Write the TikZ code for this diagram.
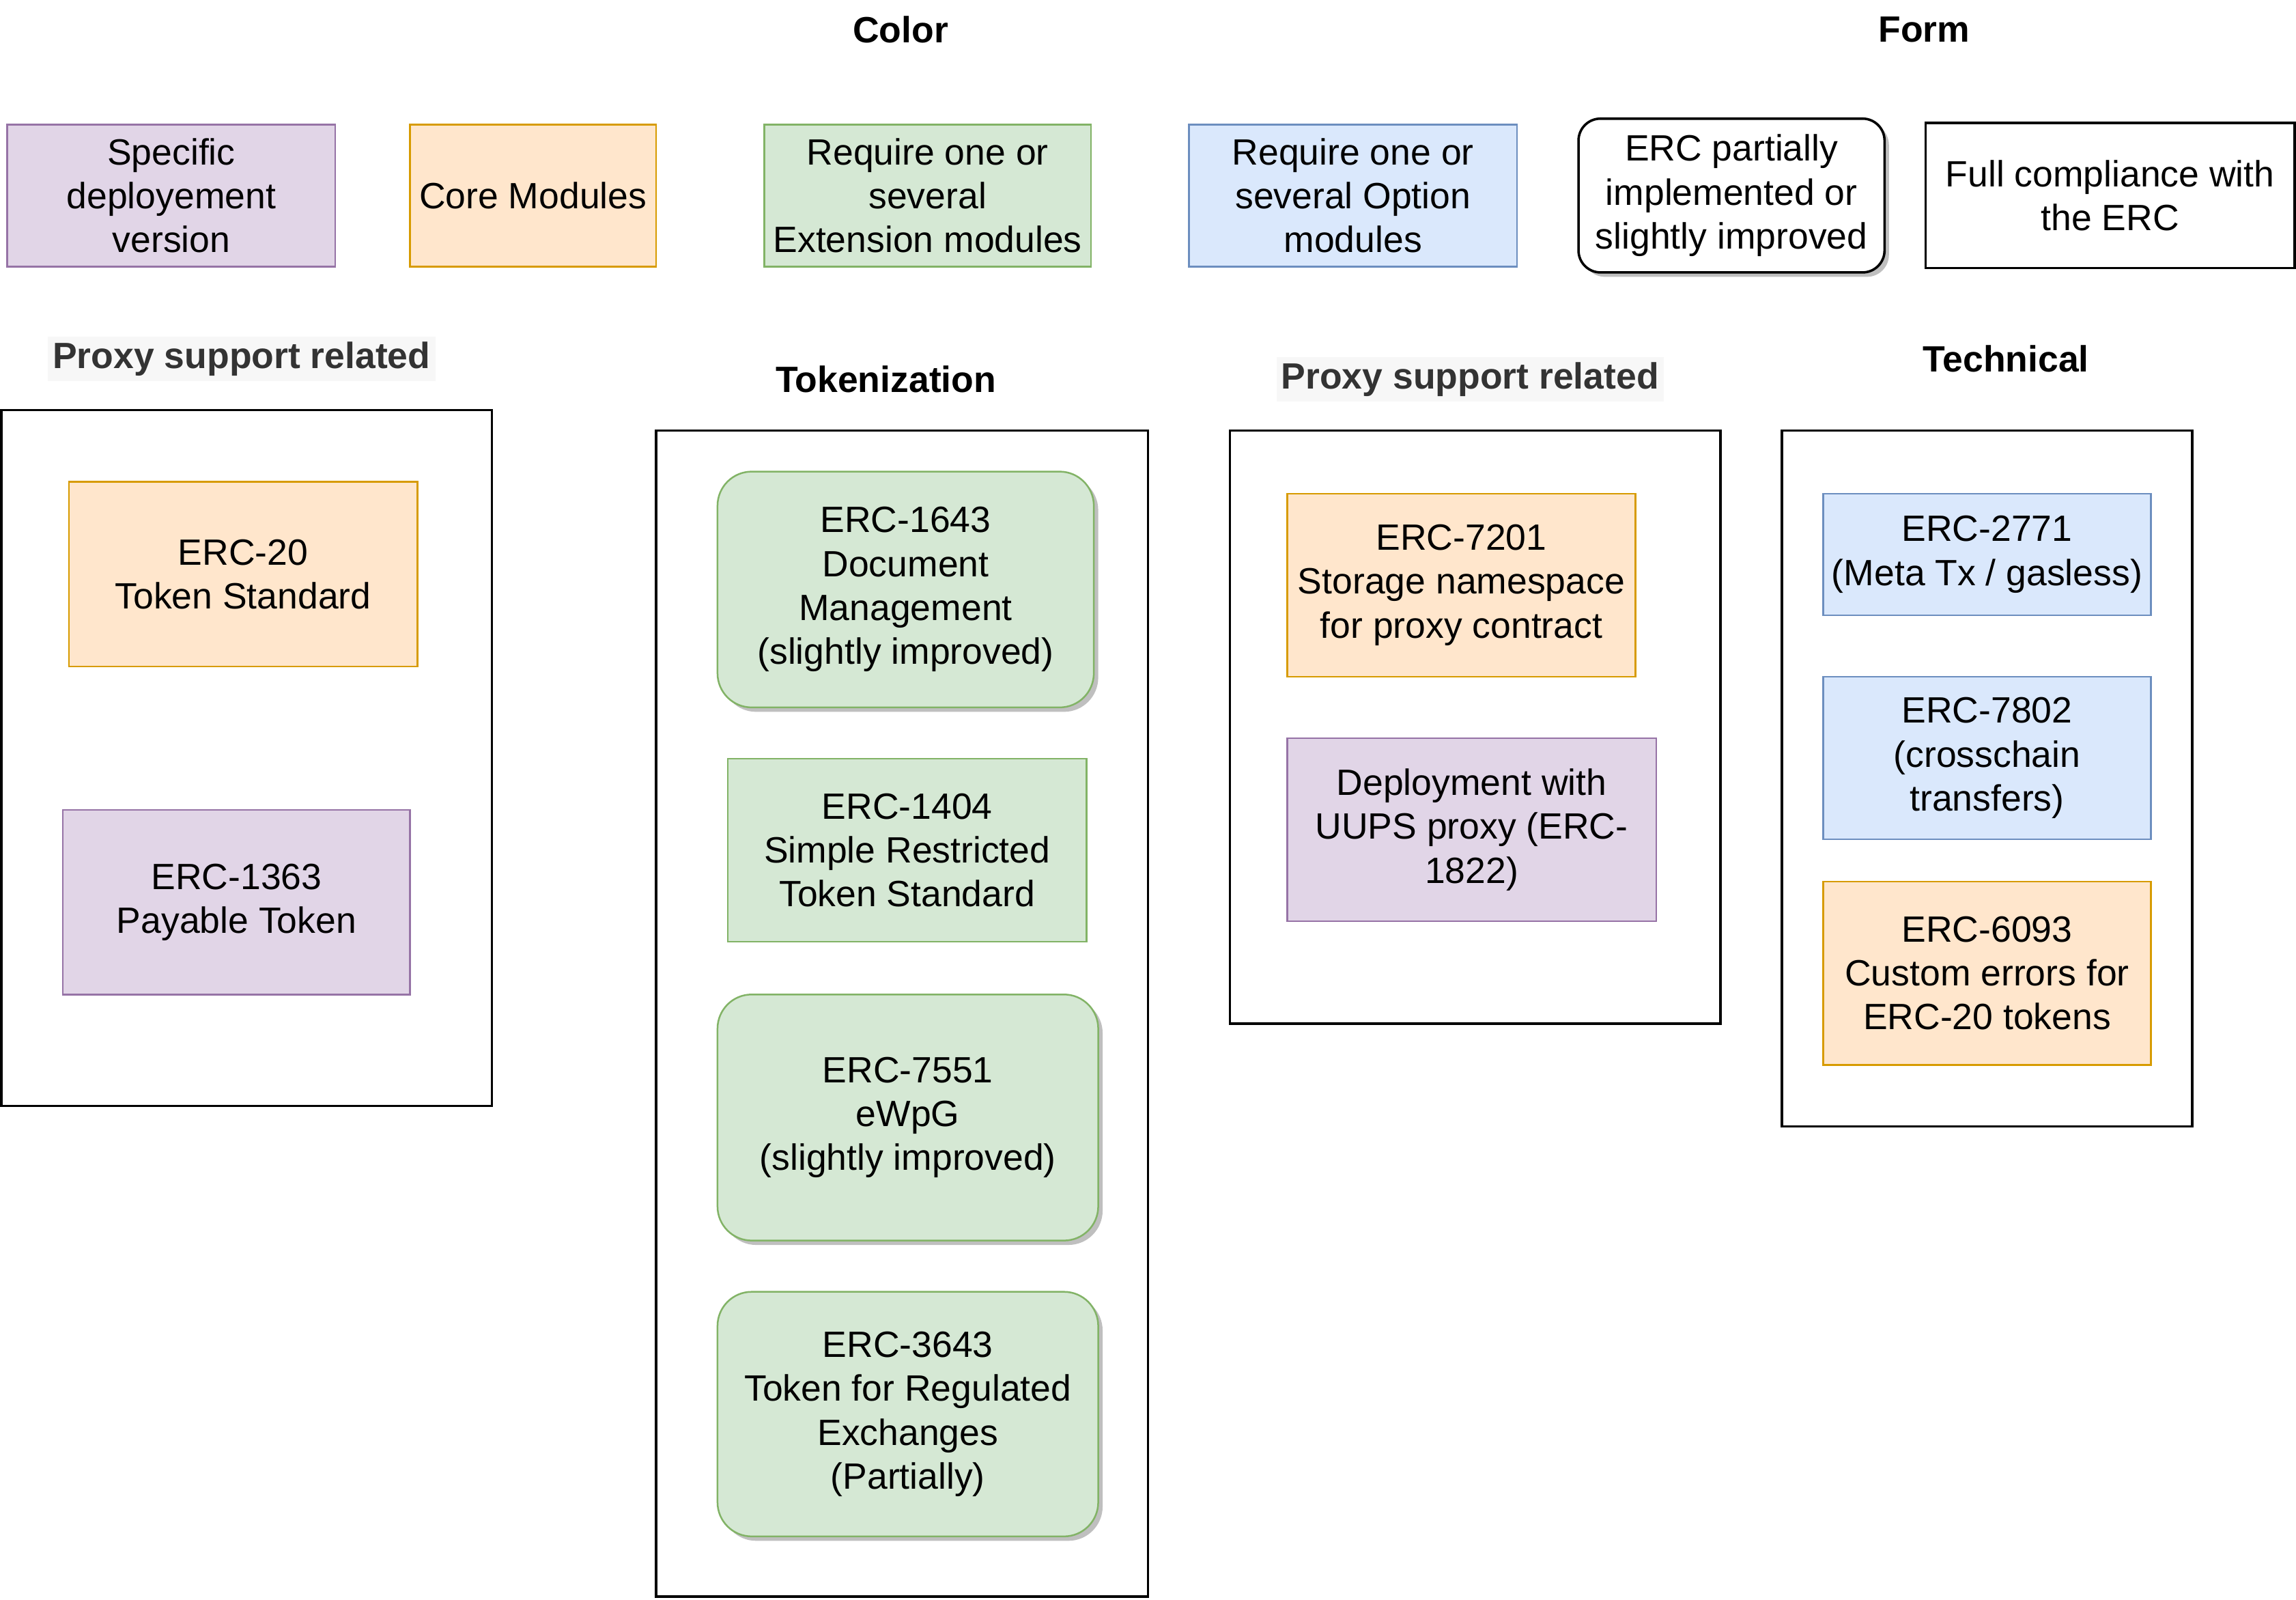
\documentclass[tikz,border=0pt]{standalone}
\usepackage{fontspec}
\setmainfont{Liberation Sans}
\usetikzlibrary{shadows}
\definecolor{purpleFill}{HTML}{E1D5E7}
\definecolor{purpleLine}{HTML}{9673A6}
\definecolor{orangeFill}{HTML}{FFE6CC}
\definecolor{orangeLine}{HTML}{D79B00}
\definecolor{greenFill}{HTML}{D5E8D4}
\definecolor{greenLine}{HTML}{82B366}
\definecolor{blueFill}{HTML}{DAE8FC}
\definecolor{blueLine}{HTML}{6C8EBF}
\definecolor{headGray}{HTML}{333333}
\definecolor{headBack}{HTML}{F7F7F7}
\begin{document}
\begin{tikzpicture}[
        x = 0.3mm, y = -0.3mm, % one unit per pixel of the drawing
        box/.style = {draw, align=center, inner sep=0pt, line width=0.35mm,
            font=\fontsize{21.3}{25.6}\selectfont},
        specific/.style = {box, fill=purpleFill, draw=purpleLine},
        core/.style = {box, fill=orangeFill, draw=orangeLine},
        extension/.style = {box, fill=greenFill, draw=greenLine},
        option/.style = {box, fill=blueFill, draw=blueLine},
        partial/.style = {rounded corners=7mm,
            drop shadow={shadow xshift=0.9mm, shadow yshift=-0.9mm, fill=black!25, opacity=1}},
        full/.style = {box, draw=black, line width=0.5mm},
        group/.style = {draw, line width=0.5mm, inner sep=0pt},
        title/.style = {font=\fontsize{21.3}{25.6}\selectfont\bfseries},
        proxytitle/.style = {title, text=headGray, fill=headBack, inner sep=1mm},
    ]
    \useasboundingbox (0,0) rectangle (1568,1092.4);
    % legend
    \node[title] (color) at (615,20) {Color};
    \node[title] (form) at (1314,20) {Form};
    \node[specific, minimum width=67.2mm, minimum height=29.1mm] (leg1) at (117,133.5) {Specific\\deployement\\version};
    \node[core, minimum width=50.4mm, minimum height=29.1mm] (leg2) at (364,133.5) {Core Modules};
    \node[extension, minimum width=66.9mm, minimum height=29.1mm] (leg3) at (633.5,133.5) {Require one or\\several\\Extension modules};
    \node[option, minimum width=67.2mm, minimum height=29.1mm] (leg4) at (924,133.5) {Require one or\\several Option\\modules};
    \node[full, fill=white, partial, rounded corners=4.5mm, minimum width=62.7mm, minimum height=31.5mm] (leg5) at (1182.5,133.5) {ERC partially\\implemented or\\slightly improved};
    \node[full, minimum width=75.6mm, minimum height=29.7mm] (leg6) at (1441,133.5) {Full compliance with\\the ERC};
    % group titles
    \node[proxytitle] (t1) at (165,245) {Proxy support related};
    \node[title] (t2) at (605,259) {Tokenization};
    \node[proxytitle] (t3) at (1004,259) {Proxy support related};
    \node[title] (t4) at (1370,245) {Technical};
    % groups
    \node[group, minimum width=100.5mm, minimum height=142.5mm] (g1) at (168.5,517.5) {};
    \node[group, minimum width=100.8mm, minimum height=238.8mm] (g2) at (616,692) {};
    \node[group, minimum width=100.5mm, minimum height=121.5mm] (g3) at (1007.5,496.5) {};
    \node[group, minimum width=84mm, minimum height=142.5mm] (g4) at (1357,531.5) {};
    % proxy support related
    \node[core, minimum width=71.4mm, minimum height=37.8mm] (erc20) at (166,392) {ERC-20\\Token Standard};
    \node[specific, minimum width=71.1mm, minimum height=37.8mm] (erc1363) at (161.5,616) {ERC-1363\\Payable Token};
    % tokenization
    \node[extension, partial, minimum width=77.1mm, minimum height=48.3mm] (erc1643) at (618.5,402.5) {ERC-1643\\Document\\Management\\(slightly improved)};
    \node[extension, minimum width=73.5mm, minimum height=37.5mm] (erc1404) at (619.5,580.5) {ERC-1404\\Simple Restricted\\Token Standard};
    \node[extension, partial, minimum width=78mm, minimum height=50.4mm] (erc7551) at (620,763) {ERC-7551\\eWpG\\(slightly improved)};
    \node[extension, partial, minimum width=78mm, minimum height=50.1mm] (erc3643) at (620,965.5) {ERC-3643\\Token for Regulated\\Exchanges\\(Partially)};
    % proxy support related
    \node[core, minimum width=71.4mm, minimum height=37.5mm] (erc7201) at (998,399.5) {ERC-7201\\Storage namespace\\for proxy contract};
    \node[specific, minimum width=75.6mm, minimum height=37.5mm] (erc1822) at (1005,566.5) {Deployment with\\UUPS proxy (ERC-\\1822)};
    % technical
    \node[option, minimum width=67.2mm, minimum height=24.9mm] (erc2771) at (1357,378.5) {ERC-2771\\(Meta Tx / gasless)};
    \node[option, minimum width=67.2mm, minimum height=33.3mm] (erc7802) at (1357,517.5) {ERC-7802\\(crosschain\\transfers)};
    \node[core, minimum width=67.2mm, minimum height=37.5mm] (erc6093) at (1357,664.5) {ERC-6093\\Custom errors for\\ERC-20 tokens};
\end{tikzpicture}
\end{document}
